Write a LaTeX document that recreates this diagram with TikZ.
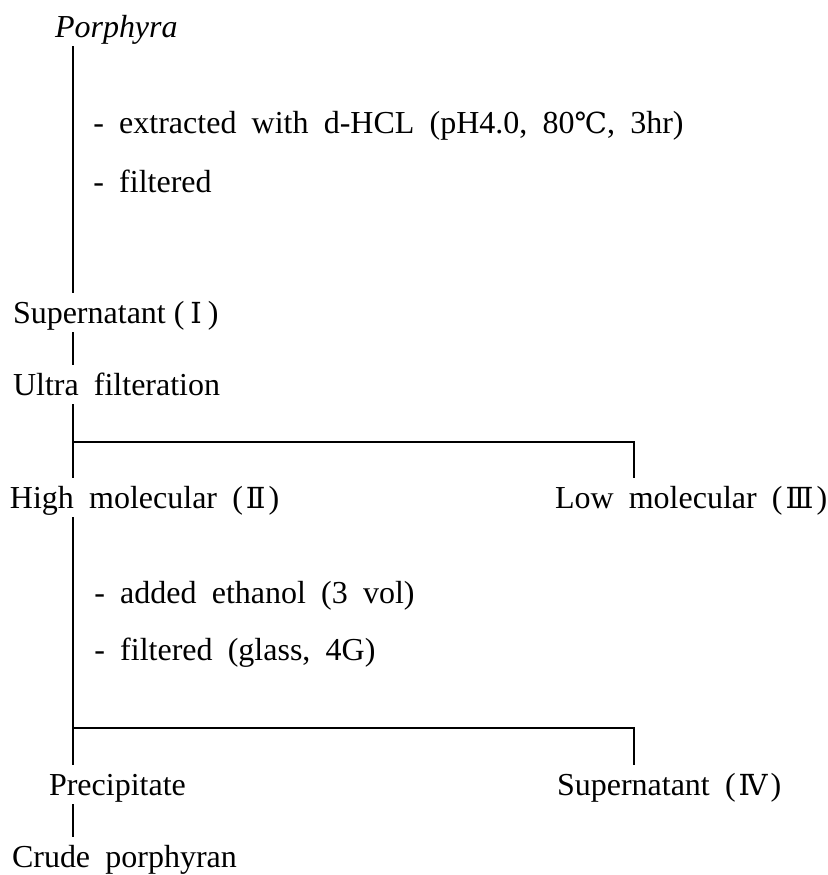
\documentclass[tikz,border=0pt]{standalone}
\usepackage{fontspec}
\setmainfont{Liberation Serif}[WordSpace=1.9]
\newfontfamily\symfont{DejaVu Serif}
% Roman numerals and the degree sign, set a little smaller to sit at cap height
\newcommand{\symch}[1]{{\symfont\fontsize{14.5}{17}\selectfont #1}}

\tikzset{
  stage/.style={anchor=base west, inner sep=0pt, outer xsep=0pt, outer ysep=4.5pt,
                text height=10.6pt, text depth=0pt,
                font=\fontsize{16}{19}\selectfont},
  remark/.style={anchor=base west, inner sep=0pt, font=\fontsize{16}{19}\selectfont},
  link/.style={line width=0.6pt, draw=black}
}

\begin{document}
\begin{tikzpicture}[x=0.5pt, y=-0.5pt]
  \useasboundingbox (0,0) rectangle (827,875);

  % main column and side branch
  \coordinate (trunk) at (73,0);
  \coordinate (branch) at (634,0);
  \coordinate (split1) at (73,442);
  \coordinate (split2) at (73,728);

  % stages
  \node[stage, font=\fontsize{16}{19}\selectfont\itshape] (porphyra) at (55,37) {Porphyra};
  \node[stage] (sup1)    at (13,323)  {Supernatant\kern4pt(\kern3pt\symch{Ⅰ}\kern3pt)};
  \node[stage] (ultra)   at (13,395)  {Ultra filteration};
  \node[stage] (high)    at (10,508)  {High molecular (\kern1.5pt\symch{Ⅱ}\kern1.5pt)};
  \node[stage] (low)     at (555,508) {Low molecular (\kern1.5pt\symch{Ⅲ}\kern1.5pt)};
  \node[stage] (prec)    at (49,795)  {Precipitate};
  \node[stage] (sup4)    at (557,795) {Supernatant (\kern1.5pt\symch{Ⅳ}\kern1.5pt)};
  \node[stage] (crude)   at (12,867)  {Crude porphyran};

  % treatment notes
  \node[remark] (extract) at (93,133) {- extracted with d-HCL (pH4.0, 80\symch{℃}, 3hr)};
  \node[remark] (filt1)   at (93,192) {- filtered};
  \node[remark] (ethanol) at (94,603) {- added ethanol (3 vol)};
  \node[remark] (filt2)   at (94,660) {- filtered (glass, 4G)};

  % connectors
  \draw[link] (porphyra.south -| trunk) -- (sup1.north -| trunk);
  \draw[link] (sup1.south -| trunk) -- (ultra.north -| trunk);
  \draw[link] (ultra.south -| trunk) -- (high.north -| trunk);
  \draw[link] (split1) -- (split1 -| branch) -- (low.north -| branch);
  \draw[link] (high.south -| trunk) -- (prec.north -| trunk);
  \draw[link] (split2) -- (split2 -| branch) -- (sup4.north -| branch);
  \draw[link] (prec.south -| trunk) -- (crude.north -| trunk);
\end{tikzpicture}
\end{document}
